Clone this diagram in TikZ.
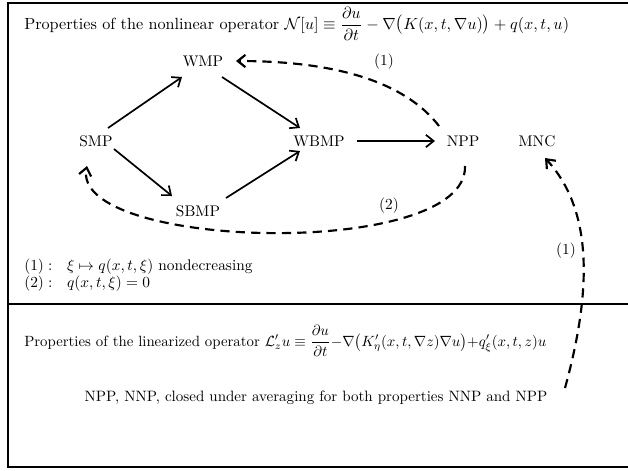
\documentclass[tikz,border=0pt]{standalone}
\usepackage{amsmath,amssymb,graphicx}
\usetikzlibrary{arrows.meta,calc}
\begin{document}
\begin{tikzpicture}[x=0.65pt,y=-0.65pt,
  lbl/.style={inner sep=1pt},
  txt/.style={inner sep=0pt,anchor=base west},
  solidarrow/.style={line width=1.1pt,-{Straight Barb[length=5pt,width=8pt,line width=1.1pt]}},
  dasharrow/.style={line width=1.4pt,dash pattern=on 6pt off 4pt,-{Straight Barb[length=5pt,width=8pt,line width=1.4pt]}},
  frameline/.style={line width=1.4pt}]
\useasboundingbox (0,0) rectangle (628,470);
% frame
\draw[frameline] (640,3) -- (8,3) -- (8,467) -- (640,467);
\draw[frameline] (8,304) -- (640,304);
% titles
\node[txt] (title) at (24,29) {\scalebox{1.05}{Properties of the nonlinear operator $\mathcal{N}[u]\equiv\dfrac{\partial u}{\partial t}-\nabla\bigl(K(x,t,\nabla u)\bigr)+q(x,t,u)$}};
\node[txt] (title2) at (24,346) {\scalebox{0.963}{Properties of the linearized operator $\mathcal{L}'_z u\equiv\dfrac{\partial u}{\partial t}{-}\nabla\bigl(K'_\eta(x,t,\nabla z)\nabla u\bigr){+}q'_\xi(x,t,z)u$}};
% nodes
\node[lbl] (wmp) at (203,61) {WMP};
\node[lbl] (smp) at (96,141) {SMP};
\node[lbl] (wbmp) at (319,141) {WBMP};
\node[lbl] (npp) at (463,141) {NPP};
\node[lbl] (mnc) at (537,141) {MNC};
\node[lbl] (sbmp) at (198,211) {SBMP};
\node[lbl] (l1) at (384,62) {(1)};
\node[lbl] (l2) at (389,206) {(2)};
\node[lbl] (l3) at (566,251) {(1)};
% legend
\node[txt] (leg1) at (24,270) {$(1):\ \ \xi\mapsto q(x,t,\xi)$ nondecreasing};
\node[txt] (leg2) at (24,287) {$(2):\ \ q(x,t,\xi)=0$};
\node (bottom) at (316,398) {\scalebox{0.977}{NPP, NNP, closed under averaging for both properties NNP and NPP}};
% solid arrows
\draw[solidarrow] ($(smp)+(12,-13)$) -- ($(wmp)+(-21,16)$);
\draw[solidarrow] ($(wmp)+(19,16)$) -- ($(wbmp)+(-19,-13)$);
\draw[solidarrow] ($(smp)+(18,8)$) -- ($(sbmp)+(-26,-15)$);
\draw[solidarrow] ($(sbmp)+(28,-13)$) -- ($(wbmp)+(-19,10)$);
\draw[solidarrow] ($(wbmp)+(38,0)$) -- ($(npp)+(-28,0)$);
% dashed arrows
\draw[dasharrow] ($(npp)+(-24,-15)$) .. controls (405,82) and (336,61) .. ($(wmp)+(33,0)$);
\draw[dasharrow] ($(npp)+(2,25)$) .. controls (468,260) and (70,250) .. ($(smp)+(-9,25)$);
\coordinate (start3) at (565,388);
\draw[dasharrow] (start3) .. controls (592,290) and (593,210) .. ($(mnc)+(8,17)$);
\end{tikzpicture}
\end{document}
